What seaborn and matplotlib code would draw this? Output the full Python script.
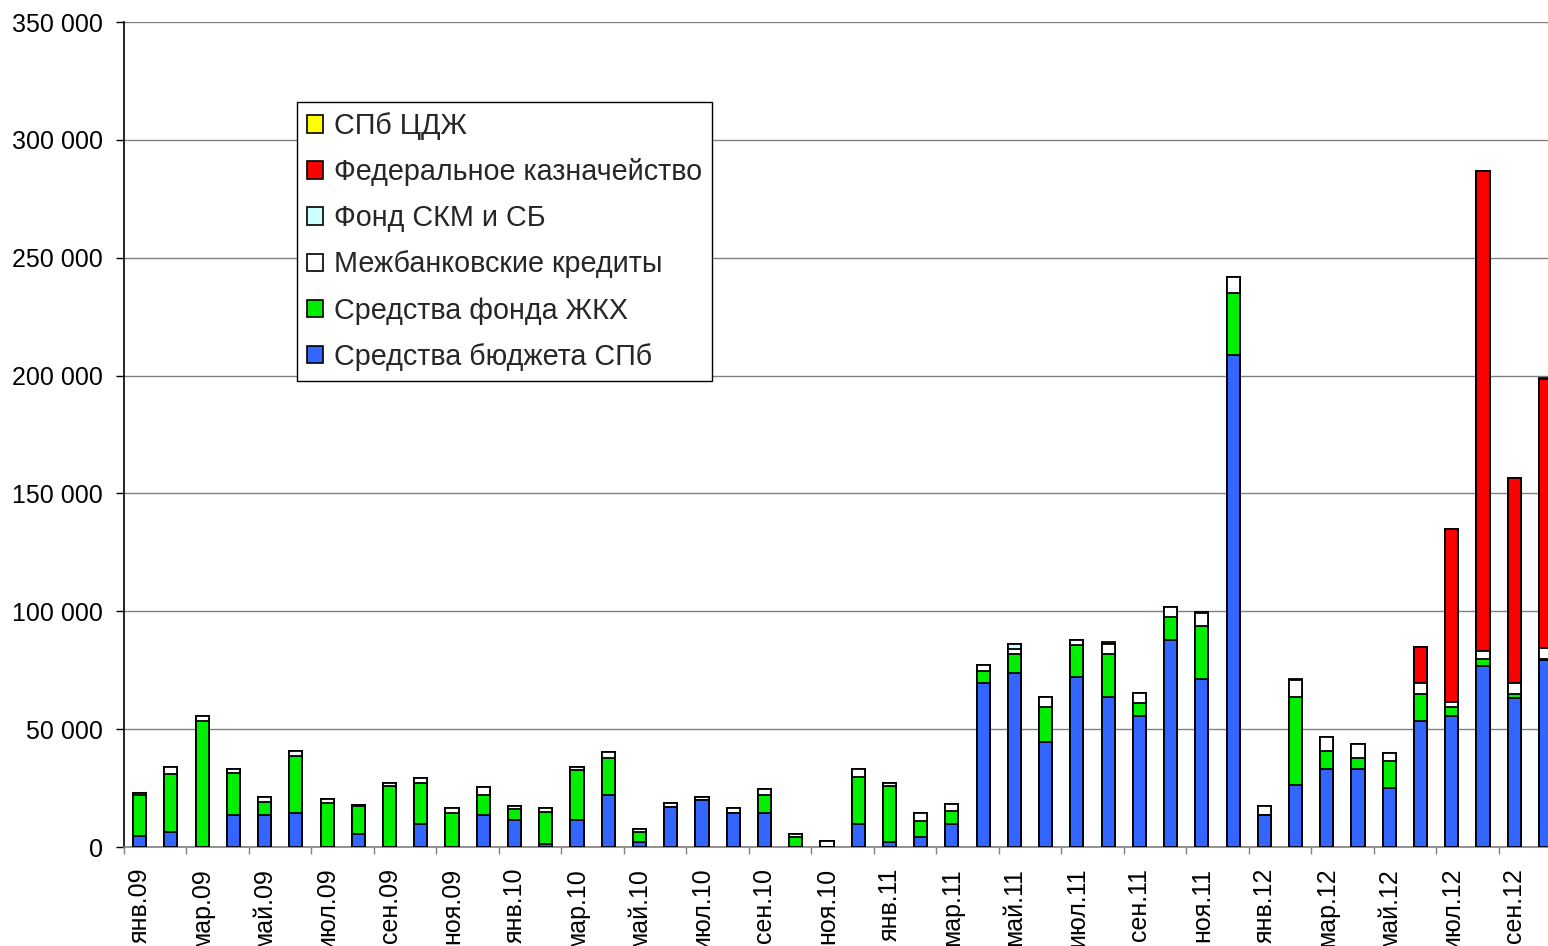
import numpy as np
import matplotlib
matplotlib.use("Agg")
import matplotlib.pyplot as plt
import seaborn as sns
from matplotlib.patches import Patch
from matplotlib.ticker import FuncFormatter

# months jan.09 .. oct.12
month_names = ['янв', 'фев', 'мар', 'апр', 'май', 'июн', 'июл', 'авг', 'сен', 'окт', 'ноя', 'дек']
months = [f"{m}.{y}" for y in ['09', '10', '11', '12'] for m in month_names][:46]

# values, thousand rub.
budget = [4.8, 6.5, 0, 13.6, 13.6, 14.3, 0, 5.5, 0, 9.8, 0, 13.6,
          11.5, 1.3, 11.5, 22.1, 2.2, 17.1, 19.9, 14.3, 14.3, 0, 0, 9.6,
          2.2, 4.4, 9.6, 69.4, 73.9, 44.7, 72.2, 63.5, 55.7, 87.8, 71.3, 208.7,
          13.6, 26.2, 33.0, 33.0, 25.1, 53.6, 55.5, 77.0, 63.2, 79.4]
zhkh = [17.3, 24.3, 53.6, 17.9, 5.4, 24.3, 18.5, 11.9, 25.9, 17.2, 14.3, 8.5,
        4.5, 13.7, 21.2, 15.8, 4.2, 0, 0, 0, 7.8, 4.1, 0, 20.2,
        23.7, 6.8, 5.8, 5.4, 8.0, 14.8, 13.5, 18.3, 5.5, 9.7, 22.5, 26.3,
        0, 37.3, 7.6, 4.8, 11.4, 11.5, 4.0, 2.8, 1.5, 0.5]
interbank = [0.9, 3.3, 2.1, 1.6, 2.3, 2.3, 2.0, 0.3, 1.4, 2.1, 2.2, 3.2,
             1.4, 1.5, 1.4, 2.3, 1.2, 1.4, 1.4, 2.2, 2.4, 1.4, 2.7, 3.3,
             1.4, 3.4, 3.0, 2.3, 2.0, 4.3, 2.1, 4.5, 4.3, 4.2, 5.5, 6.8,
             3.9, 7.3, 6.2, 6.0, 3.3, 4.3, 2.1, 3.5, 4.7, 4.4]
skm = [0] * 46
skm[28] = 2.1
treasury = [0] * 41 + [15.5, 73.3, 203.5, 87.1, 114.2]
cdzh = [0] * 46
for i, v in [(31, 0.5), (34, 0.6), (37, 0.6), (45, 0.6)]:
    cdzh[i] = v

labels = ["Средства бюджета СПб", "Средства фонда ЖКХ", "Межбанковские кредиты",
          "Фонд СКМ и СБ", "Федеральное казначейство", "СПб ЦДЖ"]
colors = ["#3366ff", "#00ee00", "#ffffff", "#ccffff", "#ff0000", "#ffff00"]
series = [budget, zhkh, interbank, skm, treasury, cdzh]

cum = np.cumsum(np.array(series) * 1000, axis=0)

sns.set_theme(style="ticks")
plt.rcParams['font.family'] = ['Liberation Sans', 'DejaVu Sans']

fig = plt.figure(figsize=(15.48, 9.46), dpi=100)
ax = fig.add_axes([124 / 1548, 99 / 946, 1424 / 1548, 825 / 946])

# draw cumulative totals from top layer down so lower layers cover them
for i in reversed(range(len(series))):
    sns.barplot(x=months, y=cum[i], order=months, color=colors[i], saturation=1,
                width=0.42, edgecolor="black", linewidth=1.3, errorbar=None,
                ax=ax, zorder=3)

ax.set_yticks(np.arange(0, 350001, 50000))
ax.yaxis.set_major_formatter(FuncFormatter(lambda v, p: f"{int(v):,}".replace(",", " ")))
ax.yaxis.grid(True, color="#808080", linewidth=1)
ax.set_axisbelow(True)

ax.set_xticks(np.arange(0, 46, 2))
ax.set_xticklabels(months[::2], rotation=90)
ax.set_xticks(np.arange(-0.5, 45, 2), minor=True)
ax.set_ylim(0, 350000)
ax.set_xlim(-0.5, 45.08)
ax.tick_params(axis="x", which="major", length=0, pad=15, labelsize=18, colors="black")
ax.tick_params(axis="x", which="minor", length=5, width=1, color="#808080")
ax.tick_params(axis="y", length=6, width=1, pad=9, labelsize=18, colors="black")
ax.set_xlabel("")
ax.set_ylabel("")

for s in ["top", "right"]:
    ax.spines[s].set_visible(False)
ax.spines["left"].set_color("black")
ax.spines["left"].set_linewidth(1.2)
ax.spines["bottom"].set_color("#808080")
ax.spines["bottom"].set_linewidth(1.2)

handles = [Patch(facecolor=colors[i], edgecolor="black", linewidth=1.2, label=labels[i])
           for i in reversed(range(len(series)))]
leg = ax.legend(handles=handles, loc="upper left", bbox_to_anchor=(0.1215, 0.903),
                borderaxespad=0, fontsize=20.7, frameon=True, fancybox=False,
                framealpha=1, edgecolor="black", handlelength=0.56, handleheight=0.56,
                handletextpad=0.38, labelspacing=0.63, borderpad=0.35)
leg.get_frame().set_linewidth(1)

fig.savefig("out.png", dpi=100)
